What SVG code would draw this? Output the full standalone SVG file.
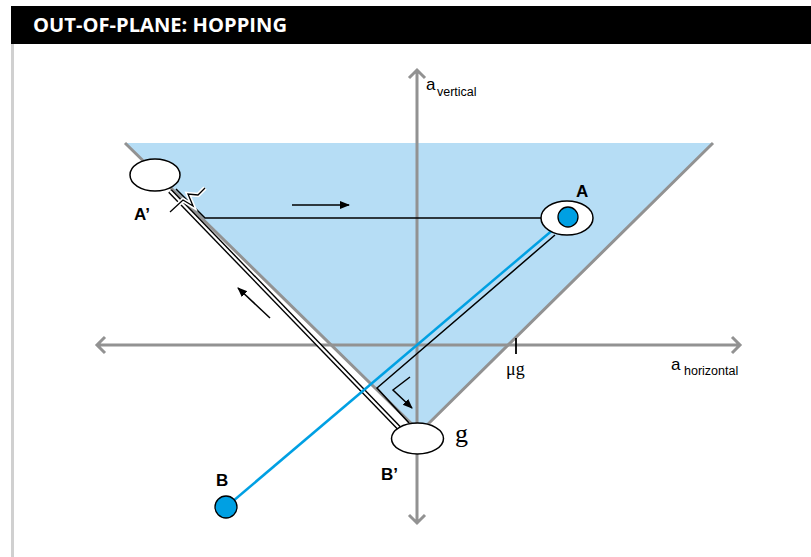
<svg xmlns="http://www.w3.org/2000/svg" width="811" height="557" viewBox="0 0 811 557">
<defs>
<style>
.axis{stroke:#929292;stroke-width:3;fill:none}
.trk{stroke:#000;stroke-width:1.5;fill:none}
.lbl{font-family:"Liberation Sans","Open Sans",sans-serif;font-weight:900;font-size:17px;fill:#000}
.ax{font-family:"Liberation Sans",sans-serif;fill:#000}
.ser{font-family:"Liberation Serif",serif;fill:#000}
.node{fill:#fff;stroke:#000;stroke-width:1.5}
.dot{fill:#00a0e3;stroke:#000;stroke-width:1.3}
</style>
<marker id="ah" viewBox="0 0 10 10" refX="9" refY="5" markerWidth="10" markerHeight="10" markerUnits="userSpaceOnUse" orient="auto">
<path d="M0,1 L10,5 L0,9 Z" fill="#000"/>
</marker>
</defs>
<rect x="0" y="0" width="811" height="557" fill="#fff"/>
<g id="header">
<rect x="11" y="6" width="800" height="38" fill="#000"/>
<text x="33" y="32" font-family="'Open Sans','Liberation Sans',sans-serif" font-weight="700" font-size="19.5" fill="#fff" textLength="254" lengthAdjust="spacingAndGlyphs">OUT-OF-PLANE: HOPPING</text>
</g>
<rect x="11" y="44" width="3" height="513" fill="#d0d0d0"/>
<g id="cone">
<polygon points="125,143 713,143 420,432" fill="#b6ddf5"/>
<path class="axis" d="M125,143 L420,432 M713,143 L420,432"/>
</g>
<g id="axes">
<path class="axis" d="M417,70 V523 M409,78 L417,70 L425,78 M409,515 L417,523 L425,515"/>
<path class="axis" d="M97,345 H740 M105,337 L97,345 L105,353 M732,337 L740,345 L732,353"/>
<path d="M516,338 V354" stroke="#000" stroke-width="1.8"/>
<text class="ax" x="426" y="90" font-size="17">a</text>
<text class="ax" x="437" y="96" font-size="12.5">vertical</text>
<text class="ax" x="671" y="370" font-size="17">a</text>
<text class="ax" x="684" y="375" font-size="12.5">horizontal</text>
<text class="ser" x="506" y="375" font-size="18">μg</text>
<text class="ser" x="455" y="442" font-size="26">g</text>
</g>
<g id="connectors">
<path d="M170,191 L399,428" stroke="#000" stroke-width="5" fill="none"/>
<path d="M170,191 L399,428" stroke="#fff" stroke-width="2.2" fill="none"/>
<path class="trk" d="M176,189 L205,218 H542"/>
<path class="trk" d="M555,235 L377,388 L409,423"/>
<path class="trk" d="M410,377 L393,390 L412,408" marker-end="url(#ah)"/>
<path class="trk" d="M292,205 H349" marker-end="url(#ah)"/>
<path class="trk" d="M270,318 L238,288" marker-end="url(#ah)"/>
<path d="M226,507 L568,217" stroke="#00a0e3" stroke-width="2.5" fill="none"/>
<polyline points="170,212 183,200 193,206 188,194 198,195 205,188" fill="none" stroke="#fff" stroke-width="4.5" stroke-linejoin="miter"/>
<polyline points="170,212 183,200 193,206 188,194 198,195 205,188" fill="none" stroke="#000" stroke-width="1.3"/>
</g>
<g id="nodeA1">
<ellipse class="node" cx="155" cy="175" rx="25" ry="16"/>
<text class="lbl" x="134" y="220">A’</text>
</g>
<g id="nodeA">
<ellipse class="node" cx="567" cy="218" rx="26" ry="17"/>
<circle class="dot" cx="568" cy="217" r="10"/>
<text class="lbl" x="576" y="197">A</text>
</g>
<g id="nodeB1">
<ellipse class="node" cx="417.5" cy="438.5" rx="26" ry="15.5"/>
<text class="lbl" x="381" y="480">B’</text>
</g>
<g id="nodeB">
<circle class="dot" cx="226" cy="507" r="11"/>
<text class="lbl" x="216" y="486">B</text>
</g>
</svg>
